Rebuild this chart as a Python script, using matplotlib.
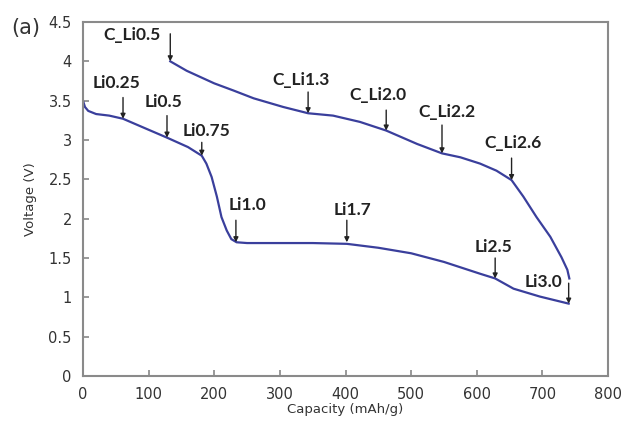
import matplotlib
matplotlib.use("Agg")
import matplotlib.pyplot as plt

# discharge curve (mAh/g, V)
dis_cap = [0, 3, 8, 20, 40, 61, 100, 128, 160, 181, 188, 196, 204, 211, 219, 226, 234,
           250, 300, 350, 402, 450, 500, 550, 605, 628, 656, 696, 740]
dis_v = [3.5, 3.42, 3.37, 3.33, 3.31, 3.27, 3.13, 3.03, 2.91, 2.80, 2.70, 2.53, 2.28, 2.02,
         1.85, 1.74, 1.70, 1.69, 1.69, 1.69, 1.68, 1.63, 1.56, 1.45, 1.30, 1.24, 1.11, 1.01, 0.92]

# charge curve
chg_cap = [133, 158, 200, 229, 260, 305, 343, 381, 422, 462, 509, 547, 575, 605, 630,
           653, 671, 691, 712, 729, 738, 741]
chg_v = [4.0, 3.88, 3.72, 3.63, 3.53, 3.42, 3.34, 3.31, 3.23, 3.12, 2.95, 2.83, 2.78,
         2.70, 2.61, 2.49, 2.28, 2.02, 1.77, 1.51, 1.35, 1.24]

# marked states: label, capacity, voltage at arrow tip
mark_names = ["C_Li0.5", "Li0.25", "Li0.5", "Li0.75", "Li1.0", "Li1.7", "Li2.5", "Li3.0",
              "C_Li1.3", "C_Li2.0", "C_Li2.2", "C_Li2.6"]
mark_cap = [133, 61, 128, 181, 233, 402, 628, 740, 343, 462, 547, 653]
mark_v = [4.0, 3.27, 3.03, 2.80, 1.70, 1.70, 1.24, 0.92, 3.34, 3.12, 2.83, 2.49]

# layout: arrow tail voltage and text centre
tail_v = [4.35, 3.54, 3.31, 2.97, 1.98, 1.98, 1.50, 1.18, 3.61, 3.38, 3.19, 2.77]
txt_xy = [(75, 4.33), (51, 3.73), (123, 3.48), (188, 3.12), (251, 2.17), (411, 2.11),
          (625, 1.64), (702, 1.20), (333, 3.76), (450, 3.57), (554, 3.35), (655, 2.96)]

fig = plt.figure(figsize=(6.23, 4.28), dpi=100)
ax = fig.add_axes([0.1332, 0.1215, 0.8428, 0.8271])

ax.plot(dis_cap, dis_v, color="#3a3f9c", lw=1.6, solid_joinstyle="round")
ax.plot(chg_cap, chg_v, color="#3a3f9c", lw=1.6, solid_joinstyle="round")

for i in range(len(mark_names)):
    ax.annotate("", xy=(mark_cap[i], mark_v[i]), xytext=(mark_cap[i], tail_v[i]),
                arrowprops=dict(arrowstyle="-|>", color="#222222", lw=1.0,
                                mutation_scale=7, shrinkA=0, shrinkB=0))
    ax.text(txt_xy[i][0], txt_xy[i][1], mark_names[i], ha="center", va="center",
            fontsize=12.5, fontweight="bold", family="Lato", color="#222222")

ax.set_xlim(0, 800)
ax.set_ylim(0, 4.5)
ax.set_xticks(range(0, 801, 100))
ax.set_yticks([0, 0.5, 1, 1.5, 2, 2.5, 3, 3.5, 4, 4.5])
ax.set_yticklabels(["0", "0.5", "1", "1.5", "2", "2.5", "3", "3.5", "4", "4.5"])
ax.tick_params(direction="in", length=4, width=1.2, color="#888888",
               labelsize=10.5, labelcolor="#333333", pad=8)
for s in ax.spines.values():
    s.set_color("#8a8a8a")
    s.set_linewidth(1.5)

ax.set_xlabel("Capacity (mAh/g)", fontsize=9.5, color="#333333", labelpad=1)
ax.set_ylabel("Voltage (V)", fontsize=9.5, color="#333333", labelpad=8)
fig.text(0.018, 0.935, "(a)", fontsize=15, color="#333333", va="center")

fig.savefig("out.png", dpi=100)
